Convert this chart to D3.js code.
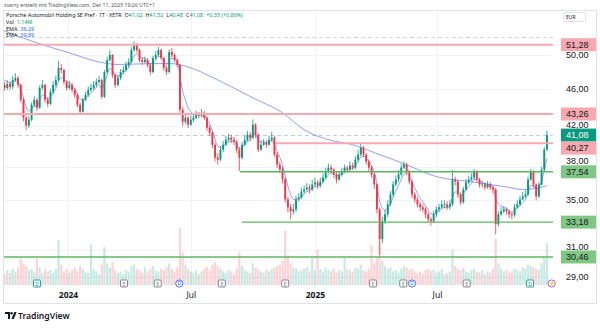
<!DOCTYPE html>
<html><head><meta charset="utf-8">
<script src="https://cdn.jsdelivr.net/npm/d3@7"></script>
<style>body{margin:0;background:#fff;} svg{display:block;font-family:"Noto Sans",Roboto,sans-serif;}</style>
</head><body><svg id="c" width="600" height="328"></svg>
<script>
// ---------- data ----------
const endDate = "2025-12-11";
const stepDays = 4;
const firstOpen = 46.2;
const closes = [
46.46,46.12,46.57,46.23,47.03,47.26,46.46,44.79,42.86,42.04,
42.65,44.25,44.79,43.93,46.12,46.46,44.79,44.36,45.68,46.46,
47.03,48.44,48.2,46.8,46.12,46.46,45.9,45.34,44.25,43.5,
44.79,45.34,45.9,46.12,46.46,46.8,47.03,45.12,47.96,49.39,
50.0,47.61,46.46,47.26,47.96,48.2,48.79,49.15,50.62,51.24,
50.62,49.39,49.15,49.39,48.79,47.96,49.63,50.0,50.62,49.63,
48.44,47.96,50.37,50.0,49.39,48.79,43.71,42.45,42.86,42.14,
42.65,42.86,43.18,43.07,43.39,42.86,41.83,41.32,40.12,38.87,
38.68,39.64,40.12,40.62,40.82,40.62,40.42,39.64,38.87,40.12,
40.62,41.12,40.82,42.14,41.12,39.64,40.12,40.32,40.12,40.62,
40.82,39.16,38.21,37.75,36.84,35.08,34.41,34.07,34.24,35.08,
35.25,35.77,35.95,36.13,35.95,36.39,36.57,36.3,36.66,37.02,
37.57,37.93,37.75,37.29,36.84,37.29,37.57,37.93,37.75,38.12,
37.93,38.68,39.16,39.83,39.16,38.49,37.93,37.29,36.39,34.24,
31.82,33.25,33.82,34.66,35.51,36.39,36.84,37.29,37.93,38.21,
37.57,36.66,35.51,35.08,34.66,34.41,34.24,33.82,33.41,33.25,
33.82,34.24,34.41,34.66,34.66,34.41,34.66,36.84,36.66,35.51,
34.83,35.95,36.57,36.84,37.02,37.57,36.84,36.39,36.39,36.13,
36.39,36.13,35.95,33.01,33.82,34.07,34.24,34.07,33.82,33.74,
34.41,34.66,35.08,35.34,35.51,36.84,37.57,36.39,35.34,36.39,
37.75,39.64,41.08];
const highs = [
46.9,46.8,47.0,46.9,47.5,47.8,47.5,46.6,45.0,43.1,
43.0,44.5,45.2,45.0,46.4,47.0,46.6,45.1,46.0,46.9,
47.5,49.3,48.9,48.3,47.0,46.9,46.7,46.1,45.5,44.5,
45.0,45.7,46.3,46.6,46.9,47.2,47.5,47.2,48.2,49.8,
50.6,50.1,47.8,47.6,48.3,48.7,49.2,49.6,51.0,51.7,
51.5,50.8,49.7,49.8,49.6,49.0,49.9,50.5,51.0,50.8,
49.8,48.7,50.7,50.9,50.2,49.6,48.9,44.0,43.3,43.1,
43.1,43.3,43.6,43.5,43.8,43.6,43.0,42.1,41.5,40.3,
39.3,40.0,40.5,41.0,41.2,41.1,40.9,40.6,39.9,40.4,
41.0,41.5,41.4,42.7,42.3,41.3,40.5,40.7,40.6,41.0,
41.4,41.0,39.4,38.5,38.0,37.0,35.3,34.7,34.7,35.4,
35.6,36.1,36.3,36.5,36.4,36.8,37.0,36.8,37.0,37.4,
37.9,38.3,38.2,37.9,37.5,37.6,37.9,38.2,38.1,38.5,
38.4,39.0,39.6,40.3,40.0,39.3,38.7,38.1,37.5,36.5,
34.4,33.6,34.2,35.0,35.8,36.7,37.2,37.7,38.3,38.5,
38.4,37.7,36.8,35.7,35.3,34.9,34.7,34.4,34.0,33.6,
34.1,34.5,34.7,35.0,35.0,34.9,35.0,37.7,37.1,36.8,
35.7,36.2,36.9,37.2,37.4,37.8,37.7,37.0,36.7,36.6,
36.7,36.6,36.3,36.1,34.1,34.4,34.5,34.4,34.2,34.0,
34.7,35.0,35.4,35.7,35.9,37.1,37.8,37.7,36.5,36.6,
38.0,39.9,41.52];
const lows = [
45.9,45.8,45.9,45.9,46.0,46.8,46.1,44.5,42.5,41.6,
41.8,42.5,44.0,43.6,43.8,45.9,44.5,44.0,44.2,45.4,
46.2,46.9,47.8,46.5,45.8,45.9,45.6,45.0,44.0,43.2,
43.4,44.6,45.1,45.7,45.9,46.2,46.6,44.9,45.0,47.7,
49.2,47.3,46.1,46.3,47.0,47.7,48.0,48.5,49.0,50.4,
50.3,49.1,48.8,49.0,48.5,47.6,47.8,49.4,49.8,49.4,
48.1,47.6,47.8,49.7,49.1,48.5,43.4,42.0,42.2,41.8,
42.0,42.4,42.7,42.8,42.9,42.6,41.5,41.0,39.8,38.5,
38.2,38.5,39.4,40.0,40.4,40.3,40.1,39.3,37.6,38.7,
40.0,40.4,40.5,40.7,40.8,39.4,39.5,40.0,39.8,40.0,
40.4,38.9,37.9,37.4,36.5,34.8,34.0,33.4,33.8,34.0,
34.9,35.1,35.6,35.8,35.6,35.8,36.2,36.0,36.1,36.5,
36.9,37.4,37.4,37.0,36.5,36.7,37.1,37.4,37.5,37.6,
37.7,37.8,38.5,39.0,38.9,38.2,37.6,37.0,36.0,33.9,
30.6,31.5,33.0,33.6,34.5,35.3,36.2,36.6,37.1,37.8,
37.3,36.4,35.2,34.8,34.4,34.1,34.0,33.5,33.1,32.9,
33.1,33.6,34.0,34.3,34.3,34.2,34.2,34.5,36.3,35.2,
34.6,34.7,35.8,36.4,36.7,36.8,36.6,36.1,36.1,35.9,
36.0,35.9,35.6,32.2,32.8,33.7,33.9,33.8,33.5,33.4,
33.6,34.3,34.5,35.0,35.2,35.4,36.7,36.1,35.0,35.2,
36.3,37.6,39.5];
const volumes = [
1.0,0.8,1.1,0.9,1.2,1.0,1.3,2.0,1.6,1.4,
1.1,1.2,1.0,2.0,1.3,0.9,1.2,1.0,1.1,0.9,
1.2,3.3,1.5,1.0,1.2,0.9,1.1,1.3,1.0,1.4,
1.2,1.0,0.9,3.0,1.2,1.0,0.8,1.5,2.8,1.6,
1.3,1.7,1.1,0.9,1.0,0.8,1.1,1.0,1.4,1.5,
1.2,1.1,0.9,1.3,1.0,1.2,1.4,1.1,1.0,1.2,
1.1,1.3,1.6,1.2,1.0,1.3,4.2,2.4,1.5,1.2,
1.0,0.9,1.1,0.8,1.0,1.2,1.3,1.1,1.5,1.7,
1.4,1.2,1.0,0.9,1.1,1.0,0.8,1.2,2.4,1.4,
1.1,1.0,0.9,1.6,1.3,1.2,1.0,0.9,1.1,1.0,
1.2,1.3,1.4,1.5,1.8,4.0,2.2,1.6,1.3,1.2,
1.0,1.1,1.2,1.3,1.0,2.0,1.1,2.6,1.2,1.0,
1.3,1.1,1.0,1.2,0.9,1.1,1.0,2.0,1.2,1.1,
1.0,1.3,1.2,1.5,1.1,1.0,1.2,2.9,1.6,2.0,
3.2,1.8,1.4,1.2,1.3,1.0,1.1,0.9,1.2,1.4,
1.3,1.1,1.2,1.0,0.9,1.0,0.8,1.1,1.2,1.0,
1.1,0.9,1.0,1.2,0.8,0.9,1.0,2.6,1.4,1.2,
1.1,1.3,1.0,0.9,1.1,1.2,1.0,0.9,1.1,0.8,
1.0,0.9,1.2,3.4,1.6,1.2,1.0,1.1,0.9,1.0,
1.2,1.1,1.0,1.3,1.2,1.5,1.4,1.3,1.2,1.1,
1.6,2.0,3.1];
const emaShortSeed = 47.9;
const emaShortPeriod = 5;
const emaLongIdx  = [0,13,24,36,43,55,63,70,80,93,104,112,121,130,138,149,161,173,186,193,198,202];
const emaLongVals = [53.17,51.5,50.37,49.15,48.85,48.95,48.95,48.44,47.03,45.01,43.39,41.62,40.62,40.12,39.35,38.3,37.1,36.66,36.21,35.95,36.04,36.29];

const yTicks = [50,46,42,38,35,31,29];
const xTickDates = ["2024-01-01","2024-07-01","2025-01-01","2025-07-01"];
const xTickLabels = ["2024","Jul","2025","Jul"];
const xTickBold = [true,false,true,false];

const levels      = [51.28, 43.26, 40.27, 37.54, 33.18, 30.46];
const levelKinds  = ["r","r","r","g","g","g"];
const levelStarts = [null, null, "2024-11-03", "2024-09-12", "2024-09-15", null];

const eventDates = ["2023-11-16","2024-03-24","2024-05-13","2024-06-14","2024-08-16","2024-11-18","2025-03-28","2025-05-12","2025-05-25","2025-08-14","2025-11-16","2025-12-18"];
const eventKinds = ["t","g","g","b","g","g","g","g","b","g","t","p"];

const title = "Porsche Automobil Holding SE Pref · 1T · XETR";
const legendOHLC = [41.02, 41.52, 40.48, 41.08];
const legendChange = 0.35, legendChangePct = 0.86;
const volLast = "1,14M";
const emaLegend = [36.29, 39.89];
const lastPrice = 41.08;
const attribution = "zvarry erstellt mit TradingView.com, Dez 11, 2025 19:26 UTC+1";

// ---------- drawing ----------
const UP = "#089981", DN = "#f23645";
const AXF = "'Liberation Sans',Arial,sans-serif";
const fmt = v => d3.format(".2f")(v).replace(".", ",");
const parse = d3.utcParse("%Y-%m-%d");
const svg = d3.select("#c");
const N = closes.length;
const end = parse(endDate);
const dates = closes.map((_, i) => d3.utcDay.offset(end, -(N - 1 - i) * stepDays));
const opens = closes.map((c, i) => i === 0 ? firstOpen : closes[i - 1]);

const x = d3.scaleUtc().domain([parse("2024-01-01"), parse("2025-07-01")]).range([68, 437]);
const y = d3.scaleLog().domain([29, 50]).range([277, 55]);
const yv = d3.scaleLinear().domain([0, 4.2]).range([285, 228]);

const L = 4, R = 553, T = 11, B = 287;

svg.append("defs").append("clipPath").attr("id", "pc")
  .append("rect").attr("x", L).attr("y", T).attr("width", R - L).attr("height", B - T);

// frame
svg.append("rect").attr("x", 3.5).attr("y", 10.5).attr("width", 593).attr("height", 293)
  .attr("fill", "none").attr("stroke", "#e0e3eb");

const plot = svg.append("g").attr("clip-path", "url(#pc)");

// grid
plot.selectAll(".gy").data(yTicks).join("line")
  .attr("x1", L).attr("x2", R).attr("y1", d => Math.round(y(d)) + 0.5).attr("y2", d => Math.round(y(d)) + 0.5)
  .attr("stroke", "#f0f3fa");
plot.selectAll(".gx").data(xTickDates).join("line")
  .attr("x1", d => Math.round(x(parse(d))) + 0.5).attr("x2", d => Math.round(x(parse(d))) + 0.5)
  .attr("y1", T).attr("y2", B).attr("stroke", "#f0f3fa");

// volume
plot.selectAll(".vol").data(volumes).join("rect")
  .attr("x", (d, i) => x(dates[i]) - 1.1).attr("width", 2.2)
  .attr("y", d => yv(d)).attr("height", d => yv(0) - yv(d))
  .attr("fill", (d, i) => closes[i] >= opens[i] ? "rgba(8,153,129,0.22)" : "rgba(242,54,69,0.22)");

// dashed reference lines
plot.append("line").attr("x1", L).attr("x2", R)
  .attr("y1", Math.round(y(52.26)) + 0.5).attr("y2", Math.round(y(52.26)) + 0.5)
  .attr("stroke", "#d1d4dc").attr("stroke-dasharray", "4,3");
plot.append("line").attr("x1", L).attr("x2", R)
  .attr("y1", Math.round(y(lastPrice)) + 0.5).attr("y2", Math.round(y(lastPrice)) + 0.5)
  .attr("stroke", "#c5cae9").attr("stroke-dasharray", "4,3");

// EMA long
const lineGen = d3.line().curve(d3.curveMonotoneX);
plot.append("path")
  .attr("d", lineGen(emaLongIdx.map((k, j) => [x(dates[k]), y(emaLongVals[j])])))
  .attr("fill", "none").attr("stroke", "#6f7ef5").attr("stroke-opacity", 0.75).attr("stroke-width", 1);

// EMA short (computed from closes)
const a = 2 / (emaShortPeriod + 1);
let e = emaShortSeed;
const emaS = closes.map(c => (e = e + a * (c - e)));
plot.append("path")
  .attr("d", d3.line().curve(d3.curveMonotoneX)(emaS.map((v, i) => [x(dates[i]), y(v)])))
  .attr("fill", "none").attr("stroke", "#7b86f7").attr("stroke-opacity", 0.8).attr("stroke-width", 1);

// candles
const cg = plot.append("g");
closes.forEach((c, i) => {
  const o = opens[i], col = c >= o ? UP : DN, cx = x(dates[i]);
  const hi = Math.max(highs[i], o, c), lo = Math.min(lows[i], o, c);
  cg.append("line").attr("x1", cx).attr("x2", cx).attr("y1", y(hi)).attr("y2", y(lo))
    .attr("stroke", col).attr("stroke-width", 0.8);
  const top = y(Math.max(o, c)), bot = y(Math.min(o, c));
  cg.append("rect").attr("x", cx - 0.95).attr("width", 1.9)
    .attr("y", top).attr("height", Math.max(0.8, bot - top)).attr("fill", col);
});

// horizontal levels
levels.forEach((v, k) => {
  const x0 = levelStarts[k] ? x(parse(levelStarts[k])) : L;
  plot.append("line").attr("x1", x0).attr("x2", R).attr("y1", y(v)).attr("y2", y(v))
    .attr("stroke", levelKinds[k] === "r" ? "#f7a9af" : "#5cb860")
    .attr("stroke-width", levelKinds[k] === "r" ? 2 : 1.4);
});

// events
const eg = svg.append("g");
eventDates.forEach((d, k) => {
  const ex = x(parse(d)), ey = 283.5, kind = eventKinds[k];
  if (kind === "g" || kind === "t") {
    const col = kind === "g" ? "#787b86" : UP;
    eg.append("rect").attr("x", ex - 3.5).attr("y", ey - 3.5).attr("width", 7).attr("height", 7).attr("rx", 1)
      .attr("fill", "#fff").attr("stroke", col).attr("stroke-width", 0.9);
    eg.append("text").attr("x", ex).attr("y", ey + 2).attr("text-anchor", "middle")
      .attr("font-size", 5).attr("fill", col).text(kind === "g" ? "E" : "D");
  } else {
    const col = kind === "b" ? "#2962ff" : "#ab47bc";
    eg.append("circle").attr("cx", ex).attr("cy", ey).attr("r", 3.6)
      .attr("fill", "#fff").attr("stroke", col).attr("stroke-width", 0.9);
    eg.append("text").attr("x", ex).attr("y", ey + 1.8).attr("text-anchor", "middle")
      .attr("font-size", 5).attr("fill", col).text(kind === "b" ? "D" : "⚡");
  }
});

// price label boxes (with simple collision avoidance)
const boxes = levels.map((v, k) => ({v, bg: levelKinds[k] === "r" ? "#f7a9af" : "#81c784", fg: "#131722"}));
boxes.push({v: lastPrice, bg: UP, fg: "#ffffff"});
boxes.forEach(b => b.yy = y(b.v));
boxes.sort((p, q) => p.yy - q.yy);
for (let k = 1; k < boxes.length; k++) {
  if (boxes[k].yy - boxes[k - 1].yy < 13) boxes[k].yy = boxes[k - 1].yy + 13;
}

// y axis tick labels, nudged away from the label boxes
const GAP = 10.3;
const yAxis = svg.append("g").attr("transform", "translate(562,0)")
  .call(d3.axisRight(y).tickValues(yTicks).tickFormat(fmt).tickSize(0).tickPadding(4));
yAxis.select(".domain").remove();
yAxis.selectAll(".tick").attr("transform", d => {
  let ty = y(d);
  boxes.forEach(b => {
    const dd = ty - b.yy;
    if (Math.abs(dd) < GAP) ty = b.yy + (dd < 0 ? -GAP : GAP);
  });
  return `translate(0,${ty})`;
});
yAxis.selectAll("text").attr("font-size", 9).attr("fill", "#131722").attr("font-family", AXF);

// x axis
const xAxis = svg.append("g").attr("transform", "translate(0,289)")
  .call(d3.axisBottom(x).tickValues(xTickDates.map(parse)).tickFormat((d, i) => xTickLabels[i]).tickSize(0).tickPadding(3));
xAxis.select(".domain").remove();
xAxis.selectAll("text").attr("font-size", 8.5).attr("fill", "#131722").attr("font-family", "'Noto Sans',sans-serif")
  .attr("font-weight", (d, i) => xTickBold[i] ? 700 : 400);

const bg = svg.append("g");
boxes.forEach(b => {
  bg.append("rect").attr("x", 561).attr("y", b.yy - 6.5).attr("width", 35).attr("height", 13).attr("fill", b.bg);
  bg.append("text").attr("x", 566).attr("y", b.yy + 3.2).attr("font-size", 9).attr("font-family", AXF)
    .attr("fill", b.fg).text(fmt(b.v));
});

// EUR box
svg.append("rect").attr("x", 563.5).attr("y", 12.5).attr("width", 22).attr("height", 9).attr("rx", 1.5)
  .attr("fill", "#fff").attr("stroke", "#e0e3eb");
svg.append("text").attr("x", 566).attr("y", 19).attr("font-size", 5).attr("fill", "#131722").text("EUR");

// texts
svg.append("text").attr("x", 4).attr("y", 7).attr("font-size", 5.2).attr("fill", "#50535e").text(attribution);
const lg = svg.append("text").attr("x", 6).attr("y", 17).attr("font-size", 5.4).attr("fill", "#131722");
lg.append("tspan").text(title);
["O", "H", "L", "C"].forEach((k, j) => {
  lg.append("tspan").attr("dx", 3).text(k);
  lg.append("tspan").attr("fill", UP).text(fmt(legendOHLC[j]));
});
lg.append("tspan").attr("dx", 3).attr("fill", UP).text("+" + fmt(legendChange) + " (+" + fmt(legendChangePct) + "%)");

const l2 = svg.append("text").attr("x", 6).attr("y", 24).attr("font-size", 5.4).attr("fill", "#131722");
l2.append("tspan").text("Vol"); l2.append("tspan").attr("dx", 3).attr("fill", UP).text(volLast);
emaLegend.forEach((v, j) => {
  const t = svg.append("text").attr("x", 6).attr("y", 30.5 + j * 6.5).attr("font-size", 5.4).attr("fill", "#131722");
  t.append("tspan").text("EMA"); t.append("tspan").attr("dx", 3).attr("fill", "#2962ff").text(fmt(v));
});

// TradingView logo
const lgG = svg.append("g").attr("transform", "translate(5,312)");
lgG.append("path").attr("d", "M0,0 H5 V7 H3 V2 H0 Z").attr("fill", "#131722");
lgG.append("circle").attr("cx", 6.6).attr("cy", 1.2).attr("r", 1.2).attr("fill", "#131722");
lgG.append("path").attr("d", "M6.5,7 L9.3,0 H11.6 L8.8,7 Z").attr("fill", "#131722");
svg.append("text").attr("x", 18).attr("y", 319).attr("font-size", 8.6).attr("font-weight", 600)
  .attr("fill", "#131722").text("TradingView");
</script></body></html>
